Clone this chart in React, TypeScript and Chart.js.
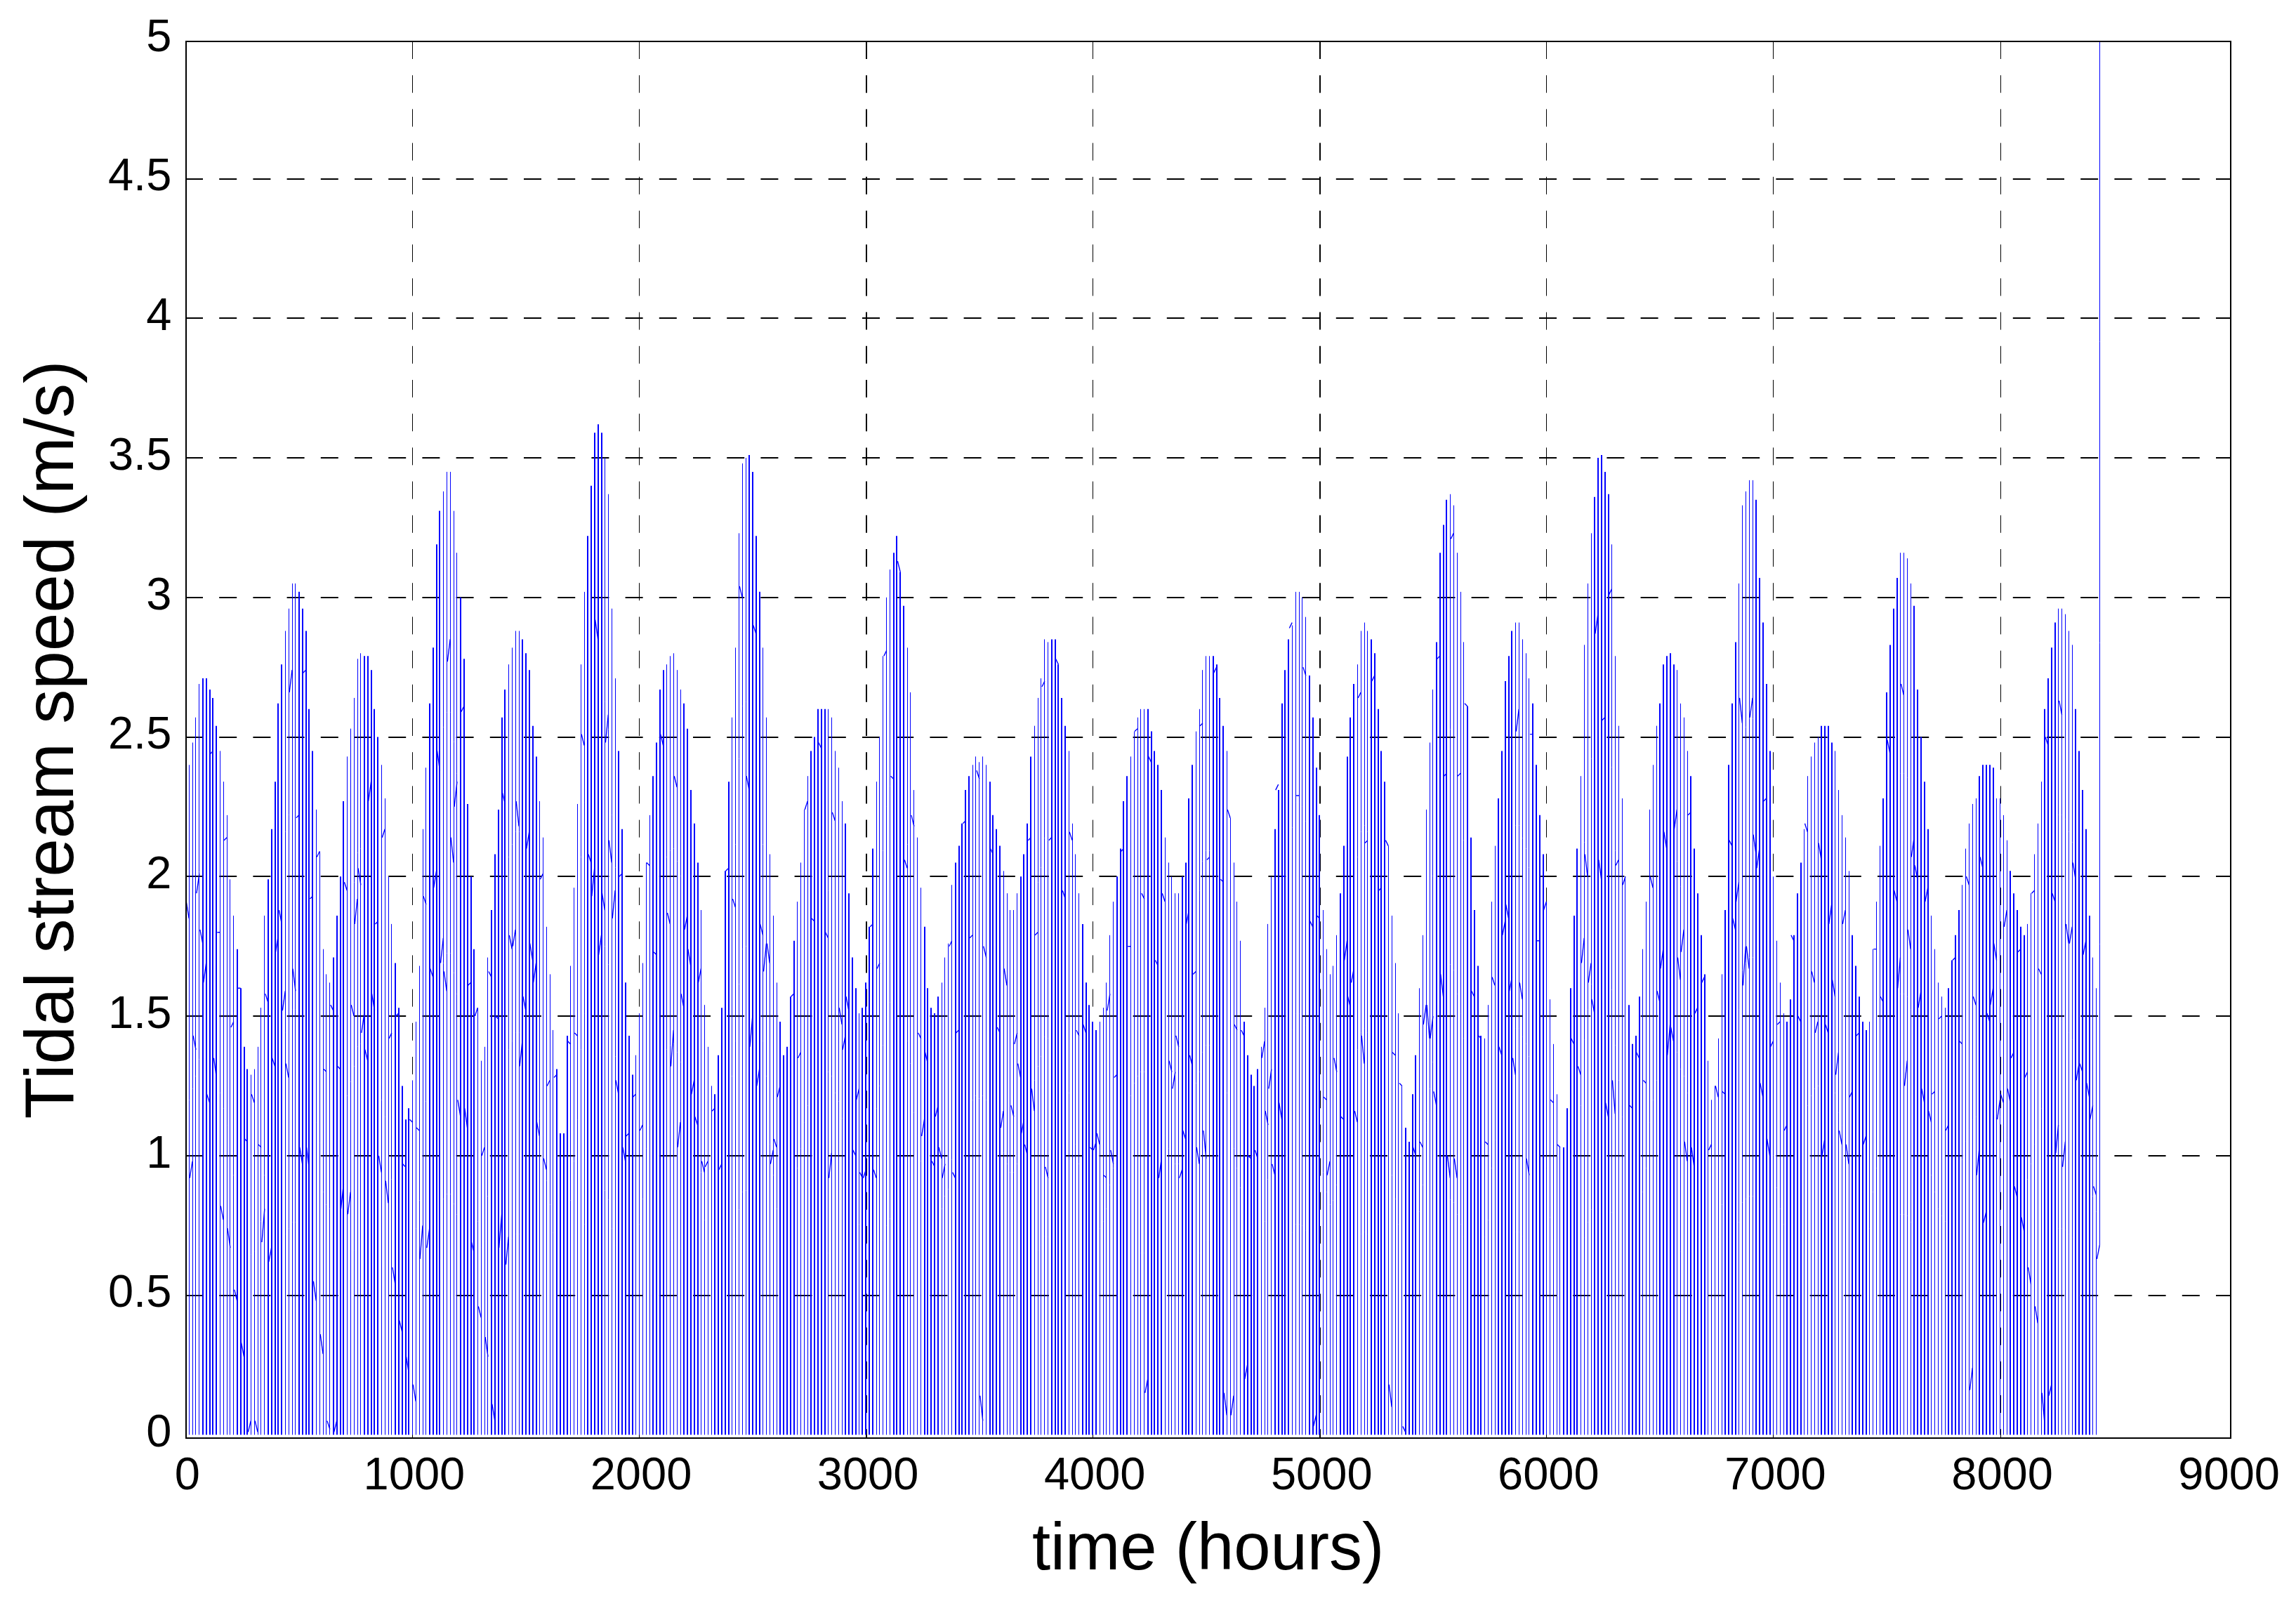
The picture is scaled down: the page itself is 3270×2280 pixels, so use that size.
import React, { useEffect, useRef } from "react";
import { Chart, registerables } from "chart.js";

Chart.register(...registerables);

const xTickValues = [0, 1000, 2000, 3000, 4000, 5000, 6000, 7000, 8000, 9000];
const yTickValues = [0, 0.5, 1, 1.5, 2, 2.5, 3, 3.5, 4, 4.5, 5];
const xTitle = "time (hours)";
const yTitle = "Tidal stream speed (m/s)";

// hours between two neighbouring drawn stems
const STEM_SPACING_HOURS = 15.148;
const STEM_FLOOR = 0;

// top of every stem (m/s), read stem by stem from left to right
const stemPeaks = [
  2.31, 2.40, 2.48, 2.57, 2.69, 2.71, 2.71, 2.67, 2.64, 2.54,
  2.45, 2.34, 2.22, 1.99, 1.86, 1.74, 1.60, 1.39, 1.31, 1.29,
  1.31, 1.39, 1.53, 1.86, 1.99, 2.17, 2.34, 2.62, 2.76, 2.88,
  2.96, 3.05, 3.05, 3.02, 2.96, 2.88, 2.60, 2.45, 2.24, 2.09,
  1.74, 1.65, 1.62, 1.71, 1.86, 2.00, 2.27, 2.43, 2.53, 2.64,
  2.78, 2.80, 2.79, 2.79, 2.74, 2.60, 2.50, 2.40, 2.28, 2.00,
  1.83, 1.69, 1.53, 1.25, 1.13, 1.17, 1.27, 1.48, 1.68, 2.17,
  2.39, 2.62, 2.82, 3.19, 3.31, 3.38, 3.45, 3.45, 3.31, 3.16,
  3.00, 2.78, 2.26, 2.00, 1.74, 1.53, 1.34, 1.39, 1.71, 1.88,
  2.08, 2.24, 2.57, 2.67, 2.76, 2.82, 2.88, 2.88,
  2.85, 2.80, 2.74, 2.54, 2.43, 2.27, 2.14, 1.82, 1.65, 1.45,
  1.31, 1.08, 1.08, 1.43, 1.68, 1.96, 2.26, 2.76, 3.02, 3.22,
  3.40, 3.59, 3.62, 3.59, 3.50, 3.37, 2.96, 2.71, 2.45, 2.17,
  1.62, 1.43, 1.29, 1.36, 1.51, 1.69, 2.05, 2.22, 2.36, 2.48,
  2.67, 2.74, 2.76, 2.79, 2.80, 2.74, 2.67, 2.62, 2.53, 2.31,
  2.19, 2.05, 1.88, 1.54, 1.39, 1.25, 1.22, 1.36, 1.53, 2.02,
  2.34, 2.57, 2.82, 3.23, 3.48, 3.50, 3.51, 3.45, 3.22, 3.02,
  2.82, 2.57, 2.08, 1.86, 1.62, 1.48, 1.36, 1.39, 1.57, 1.77,
  1.91, 2.05, 2.24, 2.36, 2.45, 2.50, 2.60, 2.60, 2.60, 2.60,
  2.57, 2.45, 2.39, 2.27, 2.19, 1.94, 1.71, 1.60, 1.51,
  1.53, 1.62, 1.82, 2.10, 2.34, 2.50, 2.79, 3.00, 3.10, 3.16,
  3.22, 3.09, 2.97, 2.82, 2.66, 2.31, 2.14, 1.96, 1.82, 1.60,
  1.53, 1.51, 1.57, 1.62, 1.71, 1.76, 1.97, 2.05, 2.11, 2.19,
  2.31, 2.36, 2.40, 2.43, 2.41, 2.43, 2.40, 2.34, 2.22, 2.17,
  2.11, 2.02, 1.94, 1.88, 1.88, 1.94, 2.00, 2.08, 2.19, 2.43,
  2.54, 2.64, 2.71, 2.85, 2.84, 2.85, 2.85, 2.76, 2.64, 2.54,
  2.45, 2.19, 2.08, 1.94, 1.83, 1.62, 1.54, 1.48, 1.45, 1.48,
  1.53, 1.62, 1.79, 1.91, 2.00, 2.10, 2.27, 2.36, 2.43, 2.52,
  2.57, 2.60, 2.60, 2.60, 2.52, 2.45, 2.40, 2.31, 2.14, 2.05,
  2.00, 1.94, 1.94, 2.00, 2.05, 2.28, 2.40, 2.52,
  2.60, 2.74, 2.79, 2.79, 2.79, 2.76, 2.64, 2.54, 2.45, 2.21,
  2.05, 1.91, 1.77, 1.48, 1.36, 1.29, 1.25, 1.31, 1.39, 1.53,
  1.83, 2.00, 2.17, 2.31, 2.62, 2.74, 2.85, 2.90, 3.02, 3.02,
  3.00, 2.93, 2.72, 2.57, 2.39, 2.22, 1.88, 1.74, 1.65, 1.68,
  1.79, 1.94, 2.11, 2.43, 2.57, 2.69, 2.76, 2.88, 2.91, 2.88,
  2.85, 2.80, 2.60, 2.45, 2.34, 2.11, 1.86, 1.69, 1.51, 1.25,
  1.10, 1.05, 1.22, 1.36, 1.60, 1.79, 2.24, 2.48, 2.67, 2.84,
  3.16, 3.26, 3.35, 3.37, 3.33, 3.16, 3.02, 2.84, 2.61, 2.14,
  1.88, 1.68, 1.43, 1.42, 1.54, 1.91, 2.11, 2.28, 2.45, 2.70,
  2.79, 2.88, 2.91, 2.91, 2.85, 2.80, 2.71, 2.62,
  2.40, 2.22, 2.08, 1.91, 1.56, 1.40, 1.22, 1.03, 1.03, 1.17,
  1.60, 1.86, 2.10, 2.36, 2.83, 3.05, 3.23, 3.36, 3.50, 3.51,
  3.45, 3.37, 3.19, 2.79, 2.54, 2.28, 2.00, 1.54, 1.40, 1.43,
  1.57, 1.74, 1.91, 2.24, 2.40, 2.54, 2.62, 2.76, 2.79, 2.80,
  2.76, 2.74, 2.62, 2.57, 2.45, 2.36, 2.10, 1.94, 1.79, 1.65,
  1.34, 1.20, 1.25, 1.42, 1.65, 1.88, 2.40, 2.62, 2.84, 3.05,
  3.33, 3.38, 3.42, 3.42, 3.35, 3.07, 2.91, 2.69, 2.45, 2.00,
  1.77, 1.62, 1.51, 1.48, 1.56, 1.79, 1.94, 2.05, 2.17, 2.36,
  2.43, 2.48, 2.50, 2.54, 2.54, 2.54, 2.48, 2.45, 2.31, 2.22,
  2.14, 2.02, 1.79, 1.68, 1.57, 1.48, 1.45, 1.48,
  1.74, 1.91, 2.11, 2.28, 2.66, 2.83, 2.96, 3.07, 3.16, 3.16,
  3.14, 3.05, 2.97, 2.67, 2.50, 2.34, 2.17, 1.86, 1.74, 1.62,
  1.57, 1.53, 1.60, 1.70, 1.79, 1.88, 1.97, 2.10, 2.19, 2.26,
  2.28, 2.36, 2.40, 2.40, 2.40, 2.39, 2.28, 2.28, 2.22, 2.13,
  2.02, 1.94, 1.88, 1.82, 1.79, 1.83, 1.94, 2.08, 2.19, 2.34,
  2.60, 2.71, 2.82, 2.91, 2.96, 2.96, 2.94, 2.88, 2.83, 2.60,
  2.45, 2.31, 2.17, 1.86, 1.71, 1.60,
];

// the last trace of the record, which shoots off the top of the frame
const lastStemFrom = 0.68;
const lastStemTo = 5;

// stems printed at double weight: [first stem, last stem]
const heavyStemRuns = [
  [0, 0], [5, 9], [15, 18], [24, 28], [33, 37], [43, 46], [52, 56], [61, 65], [71, 74], [80, 84], [89, 93],
  [98, 102], [108, 111], [117, 121], [126, 130], [136, 139], [145, 149], [154, 158], [164, 167], [173, 177], [182, 186], [192, 195],
  [197, 200], [206, 209], [215, 219], [224, 228], [234, 237], [243, 246], [252, 256], [261, 265], [271, 274], [280, 284], [290, 293],
  [299, 302], [308, 312], [317, 321], [327, 330], [336, 340], [345, 349], [355, 358], [364, 367], [373, 377], [382, 386], [392, 395],
  [401, 405], [410, 414], [420, 423], [429, 433], [438, 442], [448, 451], [457, 461], [466, 470], [476, 479], [485, 489],
  [494, 498], [503, 507], [513, 516], [522, 526], [531, 535], [541, 544], [550, 554],
];

// short visible pieces of the trace between stems: [gap after stem, m/s at start, m/s at end]
const traceBits = [
  [0,1.91,1.85],[1,0.92,0.98],[2,1.43,1.38],[3,1.94,2.01],[4,1.81,1.76],[5,1.62,1.69],[6,1.22,1.19],[7,2.44,2.45],[8,1.35,1.28],[9,1.80,1.80],
  [10,0.82,0.77],[11,2.13,2.14],[12,0.74,0.67],[13,1.46,1.48],[14,0.52,0.48],[15,1.60,1.60],[16,0.33,0.28],[17,1.06,1.05],[18,0.01,0.05],[19,1.22,1.19],
  [20,0.05,0.01],[21,1.04,1.03],[22,0.69,0.81],[23,1.58,1.55],[24,0.62,0.67],[25,1.35,1.32],[26,1.73,1.79],[27,1.88,1.83],[28,1.52,1.59],[29,1.33,1.28],
  [30,2.66,2.74],[31,1.67,1.59],[32,2.21,2.22],[33,1.03,0.97],[34,2.73,2.74],[35,1.03,0.95],[36,1.92,1.93],[37,0.55,0.48],[38,2.07,2.09],[39,0.36,0.29],
  [40,1.31,1.30],[41,0.05,0.02],[42,1.54,1.52],[43,0.01,0.05],[44,1.32,1.31],[45,0.81,0.90],[46,1.98,1.95],[47,0.79,0.87],[48,1.54,1.50],[49,1.83,1.92],
  [50,2.03,1.97],[51,1.44,1.51],[52,1.38,1.34],[53,2.27,2.34],[54,1.58,1.52],[55,1.83,1.84],[56,1.00,0.94],[57,2.14,2.17],[58,0.91,0.83],[59,1.42,1.44],
  [60,0.60,0.54],[61,1.50,1.51],[62,0.41,0.37],[63,0.97,0.96],[64,0.28,0.22],[65,1.13,1.12],[66,0.18,0.12],[67,1.10,1.09],[68,0.63,0.75],[69,1.93,1.90],
  [70,0.67,0.74],[71,1.67,1.64],[72,1.96,2.02],[73,2.45,2.38],[74,1.69,1.78],[75,1.66,1.59],[76,2.77,2.85],[77,2.14,2.05],[78,2.25,2.34],[79,1.20,1.14],
  [80,2.59,2.61],[81,1.17,1.10],[82,1.61,1.62],[83,0.69,0.65],[84,1.50,1.53],[85,0.46,0.42],[86,1.00,1.03],[87,0.35,0.28],[88,1.66,1.64],[89,0.11,0.05],
  [90,1.50,1.49],[91,0.67,0.79],[92,2.30,2.26],[93,0.61,0.71],[94,1.79,1.74],[95,1.75,1.81],[96,2.27,2.18],[97,1.32,1.41],
  [98,1.57,1.52],[99,2.10,2.16],[100,1.76,1.70],[101,1.62,1.69],[102,1.12,1.07],[103,1.99,2.01],[104,0.99,0.95],[105,1.25,1.27],[107,1.28,1.29],[111,1.41,1.40],
  [113,1.44,1.43],[115,2.51,2.47],[117,2.08,2.05],[118,1.93,2.03],[119,2.92,2.85],[120,1.72,1.79],[121,1.94,1.88],[122,2.48,2.58],[123,2.13,2.05],[124,1.85,1.95],
  [125,1.27,1.22],[126,2.00,2.01],[127,1.03,0.98],[128,1.07,1.08],[130,1.21,1.22],[132,1.09,1.11],[134,2.05,2.04],[136,1.73,1.72],[138,2.51,2.47],[140,1.87,1.83],
  [141,1.32,1.45],[142,2.36,2.32],[143,1.03,1.12],[144,1.58,1.53],[145,1.81,1.86],[146,1.74,1.68],[147,1.22,1.27],[148,1.14,1.11],[149,1.62,1.67],[150,0.98,0.94],
  [151,0.96,0.98],[153,1.16,1.17],[155,0.95,0.97],[157,2.02,2.03],[159,1.92,1.89],[161,3.04,3.00],[163,2.36,2.31],[164,1.39,1.50],[165,2.90,2.87],[166,1.25,1.31],
  [167,1.83,1.79],[168,1.66,1.76],[169,1.76,1.69],[170,0.97,1.02],[171,1.06,1.03],[172,1.21,1.25],[176,1.57,1.58],[178,1.35,1.37],[180,2.24,2.27],[182,1.85,1.84],
  [184,2.48,2.46],[186,1.80,1.78],[187,0.92,1.01],[188,2.23,2.20],[190,1.53,1.47],[191,1.38,1.43],[192,1.57,1.52],[194,1.02,1.00],[195,1.20,1.24],
  [196,0.94,0.92],[197,0.92,0.95],[199,1.82,1.83],[200,0.95,0.92],[201,1.67,1.69],[203,2.79,2.81],[205,2.36,2.35],[207,3.13,3.09],[209,2.06,2.03],[211,2.22,2.18],
  [213,1.44,1.42],[214,1.07,1.13],[215,1.37,1.33],[217,0.98,0.96],[218,1.14,1.18],[219,1.03,0.99],[220,0.92,0.97],[222,1.75,1.77],[223,0.94,0.92],[224,1.44,1.45],
  [226,2.19,2.20],[228,1.78,1.79],[230,2.38,2.35],[231,0.14,0.05],[232,1.75,1.71],[234,2.10,2.08],[236,1.46,1.44],[237,1.10,1.16],[238,1.67,1.61],[240,1.18,1.14],
  [241,1.40,1.44],[242,1.33,1.28],[243,1.08,1.13],[244,1.04,1.00],[245,2.13,2.14],[246,1.24,1.16],[247,1.79,1.80],[249,2.68,2.70],[250,0.96,0.92],[251,2.13,2.14],
  [253,2.78,2.76],[255,1.95,1.92],[257,2.16,2.13],[259,1.45,1.43],[261,1.47,1.44],[263,1.03,1.02],[264,1.02,1.05],[265,1.08,1.04],[267,0.93,0.92],[268,1.52,1.58],
  [269,1.02,0.97],[270,1.28,1.29],[272,2.09,2.10],[274,1.75,1.75],[276,2.52,2.53],[278,1.94,1.92],[279,0.15,0.20],[280,2.43,2.41],[282,1.70,1.68],[283,0.92,0.99],
  [284,1.94,1.91],[286,1.34,1.30],[287,1.24,1.30],[288,1.43,1.39],[289,0.92,0.95],[290,1.09,1.06],[291,1.83,1.88],[292,1.36,1.32],[293,1.65,1.66],
  [294,1.03,0.97],[295,2.54,2.55],[296,1.09,0.99],[297,2.06,2.07],[299,2.73,2.75],[301,1.99,1.98],[302,0.15,0.07],[303,2.24,2.21],[304,0.07,0.14],[305,1.47,1.45],
  [307,1.45,1.43],[308,0.20,0.25],[309,1.00,0.99],[311,1.02,0.99],[313,1.35,1.41],[314,1.16,1.11],[315,1.24,1.31],[316,0.97,0.93],[317,2.31,2.33],[318,1.19,1.13],
  [319,2.00,2.00],[321,2.89,2.91],[323,2.29,2.29],[325,2.75,2.72],[327,1.84,1.82],[328,0.03,0.07],[329,1.86,1.85],[331,1.21,1.20],[332,0.93,0.98],[334,1.35,1.30],
  [336,1.14,1.13],[337,1.70,1.77],[338,1.57,1.53],[339,1.62,1.67],[340,1.16,1.12],[341,2.64,2.66],[342,1.43,1.33],[343,2.12,2.13],[345,2.70,2.72],[347,1.95,1.96],
  [349,2.13,2.11],[350,0.18,0.10],[351,1.37,1.36],[353,1.26,1.25],[354,0.03,0.01],[357,1.03,1.00],[359,1.05,1.03],[360,1.47,1.54],[361,1.54,1.42],[362,1.42,1.50],
  [363,1.23,1.18],[364,2.78,2.79],[365,1.65,1.57],[366,2.36,2.37],[367,1.00,0.92],[368,3.21,3.23],[369,0.99,0.92],[370,2.36,2.37],[372,2.62,2.61],[374,1.59,1.57],
  [376,1.43,1.42],[378,1.05,1.04],[380,1.64,1.61],[382,1.39,1.36],[383,1.79,1.84],[384,1.90,1.85],[385,1.59,1.64],[386,1.35,1.29],[387,2.52,2.60],[388,1.62,1.56],
  [390,0.99,0.93],[391,2.51,2.51],
  [393,1.77,1.77],[395,1.88,1.91],[397,1.20,1.19],[399,1.04,1.03],[403,1.42,1.40],[405,1.32,1.29],[406,1.69,1.78],[407,2.08,2.00],[408,1.62,1.69],[409,1.56,1.51],
  [410,2.87,2.94],[411,2.06,1.99],[412,2.56,2.57],[413,1.19,1.14],[414,3.01,3.03],[415,1.27,1.15],[416,2.04,2.06],[418,1.97,2.00],[420,1.18,1.17],[422,1.37,1.35],
  [424,1.27,1.26],[426,2.00,1.96],[428,1.59,1.55],[429,1.67,1.74],[430,2.16,2.10],[431,1.36,1.47],[432,1.46,1.41],[433,2.17,2.24],[434,1.71,1.63],[435,1.73,1.81],
  [436,1.05,0.98],[437,2.22,2.23],[438,1.03,0.96],[439,1.51,1.53],[441,1.62,1.64],[443,1.02,1.04],[445,1.25,1.21],[447,1.23,1.22],[449,2.13,2.11],[450,1.85,1.81],
  [451,1.91,1.98],[452,2.64,2.55],[453,1.61,1.75],[454,1.75,1.67],[455,2.57,2.64],[456,2.15,2.08],[457,2.03,2.10],[458,1.26,1.21],[459,2.27,2.28],[460,1.06,1.00],
  [461,1.39,1.41],[463,1.47,1.48],[465,1.09,1.11],[467,1.79,1.77],[469,1.50,1.48],[471,2.19,2.16],[473,1.66,1.62],[474,1.44,1.48],[475,2.12,2.06],[476,1.00,1.06],
  [477,1.47,1.44],[478,1.83,1.90],[479,1.63,1.57],[480,1.29,1.37],[481,1.09,1.04],[482,1.83,1.88],[483,1.04,0.97],[484,1.21,1.23],[486,1.43,1.44],[488,1.04,1.07],
  [491,1.74,1.74],[493,1.57,1.55],[495,2.49,2.44],[497,1.95,1.91],[498,1.60,1.71],[499,2.69,2.65],[500,1.25,1.34],[501,1.81,1.74],[502,2.07,2.14],[503,2.04,1.99],
  [504,1.53,1.59],[505,1.24,1.19],[506,1.91,1.96],[507,1.16,1.12],[508,1.22,1.23],[510,1.49,1.50],[512,1.09,1.11],[514,1.70,1.71],[516,1.41,1.40],[518,2.00,1.97],
  [519,0.16,0.24],[520,1.57,1.54],[521,0.93,1.03],[522,2.07,2.03],[523,0.76,0.80],[524,1.51,1.48],[525,1.54,1.60],[526,1.76,1.70],[527,1.13,1.20],[528,1.22,1.19],
  [529,1.82,1.88],[530,1.24,1.19],[531,1.35,1.37],[532,0.89,0.85],[533,1.73,1.74],[534,0.78,0.73],[535,1.28,1.30],[536,0.60,0.54],[537,1.94,1.95],[538,0.46,0.40],
  [539,1.67,1.65],[540,0.15,0.04],[541,2.50,2.47],[542,0.14,0.18],[543,1.94,1.91],[544,1.01,1.11],[545,2.63,2.58],[546,0.96,1.05],[547,1.83,1.76],[548,1.76,1.82],
  [549,2.05,1.99],[550,1.27,1.33],[551,1.33,1.30],[552,1.72,1.77],[553,1.26,1.21],[554,1.13,1.18],[555,0.89,0.86],[556,0.63,0.68],
];

const xGridHeavy = [3000, 5000];

const FONT = "'Liberation Sans', Arial, sans-serif";
const BLUE = "#0000ff";

function isHeavy(i: number) {
  return heavyStemRuns.some(([a, b]) => i >= a && i <= b);
}

function stemPoints(heavy: boolean) {
  const pts: { x: number; y: number | null }[] = [];
  stemPeaks.forEach((peak, i) => {
    if (isHeavy(i) !== heavy) return;
    const x = i * STEM_SPACING_HOURS;
    pts.push({ x, y: STEM_FLOOR }, { x, y: peak }, { x, y: null });
  });
  if (!heavy) {
    const x = stemPeaks.length * STEM_SPACING_HOURS;
    pts.push({ x, y: lastStemFrom }, { x, y: lastStemTo });
  }
  return pts;
}

function bitPoints() {
  const pts: { x: number; y: number | null }[] = [];
  traceBits.forEach(([gap, from, to]) => {
    const a = (gap + 0.2) * STEM_SPACING_HOURS;
    const b = (gap + 1) * STEM_SPACING_HOURS;
    pts.push({ x: a, y: from }, { x: b, y: to }, { x: b, y: null });
  });
  return pts;
}

// keeps the stems on whole device pixels so they print crisp, as in the source image
const snapStems = {
  id: "snapStems",
  beforeDatasetsDraw(chart: any) {
    chart.data.datasets.forEach((ds: any, idx: number) => {
      if (ds.snap === undefined) return;
      chart.getDatasetMeta(idx).data.forEach((pt: any) => {
        pt.x = ds.snap === "odd" ? Math.floor(pt.x) + 0.5 : Math.round(pt.x);
      });
    });
  },
};

const frame = {
  id: "frame",
  afterDatasetsDraw(chart: any) {
    const { ctx, chartArea } = chart;
    ctx.save();
    ctx.strokeStyle = "#000";
    ctx.lineWidth = 2;
    const l = Math.ceil(chartArea.left);
    ctx.strokeRect(l, chartArea.top, chartArea.right - l, chartArea.bottom - chartArea.top);
    ctx.restore();
  },
};

export default function App() {
  const ref = useRef<HTMLCanvasElement>(null);
  useEffect(() => {
    if (!ref.current) return;
    const chart = new Chart(ref.current, {
      type: "scatter",
      data: {
        datasets: [
          { data: stemPoints(false), showLine: true, borderColor: BLUE, borderWidth: 1, pointRadius: 0, spanGaps: false, snap: "odd" } as any,
          { data: stemPoints(true), showLine: true, borderColor: BLUE, borderWidth: 2, pointRadius: 0, spanGaps: false, snap: "even" } as any,
          { data: bitPoints(), showLine: true, borderColor: BLUE, borderWidth: 1.4, pointRadius: 0, spanGaps: false } as any,
        ],
      },
      options: {
        responsive: false,
        animation: false,
        devicePixelRatio: 1,
        layout: { padding: { top: 58, right: 93, bottom: 0, left: 0 } },
        plugins: { legend: { display: false }, tooltip: { enabled: false } },
        scales: {
          x: {
            type: "linear",
            min: 0,
            max: 9015,
            afterFit: (s: any) => { s.height = 232; },
            afterBuildTicks: (s: any) => { s.ticks = xTickValues.map((value) => ({ value })); },
            grid: {
              drawTicks: false,
              color: (c: any) => (c.tick && c.tick.value === 9000 ? "rgba(0,0,0,0)" : "#000"),
              lineWidth: (c: any) => (c.tick && xGridHeavy.includes(c.tick.value) ? 2 : 1),
            },
            border: { display: false, dash: [25, 23.2] },
            ticks: {
              autoSkip: false,
              maxRotation: 0,
              color: "#000",
              padding: 16,
              labelOffset: 2.5,
              font: { family: FONT, size: 65 },
              callback: (v: any) => String(v),
            },
            title: {
              display: true,
              text: xTitle,
              color: "#000",
              font: { family: FONT, size: 94 },
              padding: { top: 0, bottom: 15 },
            },
          },
          y: {
            type: "linear",
            min: -0.0118,
            max: 4.992,
            afterFit: (s: any) => { s.width = 264.3; },
            afterBuildTicks: (s: any) => { s.ticks = yTickValues.map((value) => ({ value })); },
            grid: {
              drawTicks: false,
              lineWidth: 2,
              color: (c: any) => (c.tick && (c.tick.value === 0 || c.tick.value === 5) ? "rgba(0,0,0,0)" : "#000"),
            },
            border: { display: false, dash: [25, 23.2] },
            ticks: {
              autoSkip: false,
              color: "#000",
              padding: 20,
              labelOffset: -1,
              font: { family: FONT, size: 65 },
              callback: (v: any) => String(v),
            },
            title: {
              display: true,
              text: yTitle,
              color: "#000",
              font: { family: FONT, size: 98 },
              padding: { top: 18, bottom: 0 },
            },
          },
        },
      },
      plugins: [snapStems, frame],
    } as any);
    return () => chart.destroy();
  }, []);
  return (
    <canvas
      ref={ref}
      width={3270}
      height={2280}
      style={{ position: "absolute", left: 0, top: 0, display: "block", background: "#fff" }}
    />
  );
}
